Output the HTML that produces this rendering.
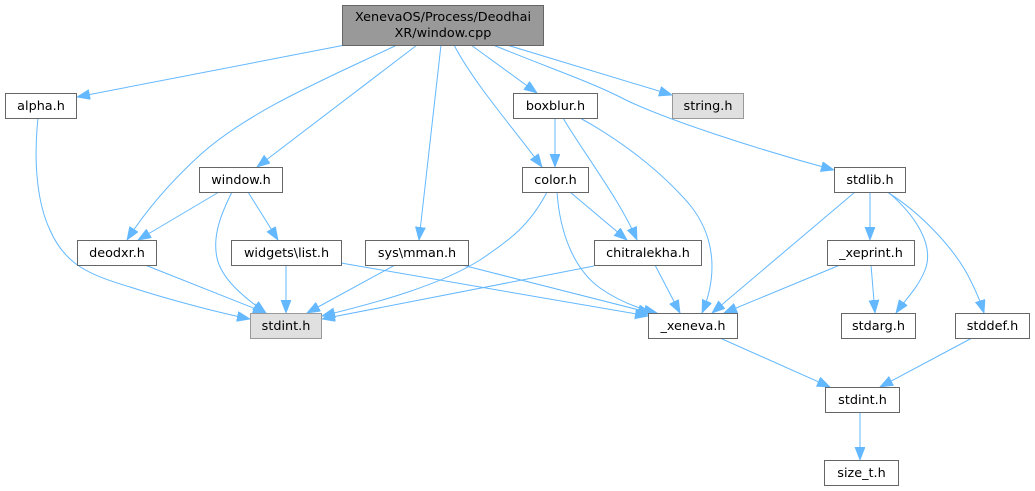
<!DOCTYPE html>
<html>
<head>
<meta charset="utf-8">
<style>
html,body{margin:0;padding:0;background:#fff;}
svg{display:block;}
text{font-family:"DejaVu Sans","Liberation Sans",sans-serif;font-size:12.8px;fill:#000;}
.n{fill:#fff;stroke:#666;stroke-width:1;}
.g{fill:#e0e0e0;stroke:#999;stroke-width:1;}
.r{fill:#999;stroke:#666;stroke-width:1;}
.e{fill:none;stroke:#63b8ff;stroke-width:1;marker-end:url(#ah);}
</style>
</head>
<body>
<svg width="1035" height="491" viewBox="0 0 1035 491" xmlns="http://www.w3.org/2000/svg">
<defs>
<marker id="ah" markerUnits="userSpaceOnUse" markerWidth="14" markerHeight="11" refX="13" refY="5" orient="auto">
<path d="M0,0 L13,5 L0,10 z" fill="#63b8ff" stroke="#63b8ff" stroke-width="0.8"/>
</marker>
</defs>

<!-- edges from root -->
<path class="e" d="M345,45 L77,97"/>
<path class="e" d="M397,45 C330,77 250,110 200,155 C165,187 143,215 127,240"/>
<path class="e" d="M417,45 L257,167"/>
<path class="e" d="M441,45 L419,240"/>
<path class="e" d="M454,45 C475,85 515,130 542,167"/>
<path class="e" d="M471,45 L537,93"/>
<path class="e" d="M493,45 C560,72 590,82 620,97 C660,118 760,150 834,170"/>
<path class="e" d="M507,45 L672,95"/>

<!-- window.h edges -->
<path class="e" d="M219,192 L138,240"/>
<path class="e" d="M232,192 C222,212 212,235 217,258 C222,280 245,298 266,313"/>
<path class="e" d="M248,192 L278,240"/>

<!-- alpha.h -->
<path class="e" d="M38,118 C33,165 38,205 50,230 C65,265 90,275 130,287 C170,300 220,313 250,319"/>

<!-- deodxr, widgets, mman -->
<path class="e" d="M145,265 L266,313"/>
<path class="e" d="M286,265 L286,313"/>
<path class="e" d="M341,263 L648,316"/>
<path class="e" d="M395,265 L307,313"/>
<path class="e" d="M462,265 L651,313"/>

<!-- color.h -->
<path class="e" d="M547,192 C530,225 510,240 480,260 C440,285 380,302 322,316"/>
<path class="e" d="M570,192 L627,240"/>
<path class="e" d="M557,192 C560,235 575,270 600,288 C620,302 640,309 657,313"/>

<!-- chitralekha -->
<path class="e" d="M594,266 L322,319"/>
<path class="e" d="M655,265 L680,313"/>

<!-- boxblur -->
<path class="e" d="M555,118 L555,167"/>
<path class="e" d="M563,118 C585,155 620,200 637,240"/>
<path class="e" d="M580,118 C620,140 660,170 690,205 C718,240 716,280 702,313"/>

<!-- stdlib -->
<path class="e" d="M855,192 L712,313"/>
<path class="e" d="M870,192 L870,240"/>
<path class="e" d="M888,192 C915,215 935,245 925,270 C918,288 905,300 896,313"/>
<path class="e" d="M887,192 C920,212 950,245 965,270 C975,288 980,300 984,313"/>

<!-- _xeprint -->
<path class="e" d="M840,265 L724,313"/>
<path class="e" d="M871,265 L875,313"/>

<!-- lower -->
<path class="e" d="M720,338 L830,387"/>
<path class="e" d="M972,338 L880,387"/>
<path class="e" d="M860,412 L860,460"/>

<!-- nodes -->
<rect class="r" x="342.5" y="5.5" width="201" height="40"/>
<text x="443" y="21" text-anchor="middle">XenevaOS/Process/Deodhai</text>
<text x="443" y="37" text-anchor="middle">XR/window.cpp</text>

<rect class="n" x="5.5" y="93.5" width="71" height="25"/>
<text x="41" y="110" text-anchor="middle">alpha.h</text>

<rect class="n" x="513.5" y="93.5" width="84" height="25"/>
<text x="555.5" y="110" text-anchor="middle">boxblur.h</text>

<rect class="g" x="672.5" y="93.5" width="71" height="25"/>
<text x="708" y="110" text-anchor="middle">string.h</text>

<rect class="n" x="199.5" y="167.5" width="83" height="25"/>
<text x="241" y="184" text-anchor="middle">window.h</text>

<rect class="n" x="522.5" y="167.5" width="66" height="25"/>
<text x="555.5" y="184" text-anchor="middle">color.h</text>

<rect class="n" x="834.5" y="167.5" width="71" height="25"/>
<text x="870" y="184" text-anchor="middle">stdlib.h</text>

<rect class="n" x="77.5" y="240.5" width="79" height="25"/>
<text x="117" y="257" text-anchor="middle">deodxr.h</text>

<rect class="n" x="231.5" y="240.5" width="110" height="25"/>
<text x="286.5" y="257" text-anchor="middle">widgets\list.h</text>

<rect class="n" x="365.5" y="240.5" width="103" height="25"/>
<text x="417" y="257" text-anchor="middle">sys\mman.h</text>

<rect class="n" x="594.5" y="240.5" width="107" height="25"/>
<text x="648" y="257" text-anchor="middle">chitralekha.h</text>

<rect class="n" x="827.5" y="240.5" width="87" height="25"/>
<text x="871" y="257" text-anchor="middle">_xeprint.h</text>

<rect class="g" x="250.5" y="313.5" width="71" height="25"/>
<text x="286" y="330" text-anchor="middle">stdint.h</text>

<rect class="n" x="648.5" y="313.5" width="89" height="25"/>
<text x="693" y="330" text-anchor="middle">_xeneva.h</text>

<rect class="n" x="841.5" y="313.5" width="74" height="25"/>
<text x="878.5" y="330" text-anchor="middle">stdarg.h</text>

<rect class="n" x="955.5" y="313.5" width="74" height="25"/>
<text x="992.5" y="330" text-anchor="middle">stddef.h</text>

<rect class="n" x="825.5" y="387.5" width="74" height="25"/>
<text x="862.5" y="404" text-anchor="middle">stdint.h</text>

<rect class="n" x="824.5" y="460.5" width="74" height="25"/>
<text x="861.5" y="477" text-anchor="middle">size_t.h</text>
</svg>
</body>
</html>
